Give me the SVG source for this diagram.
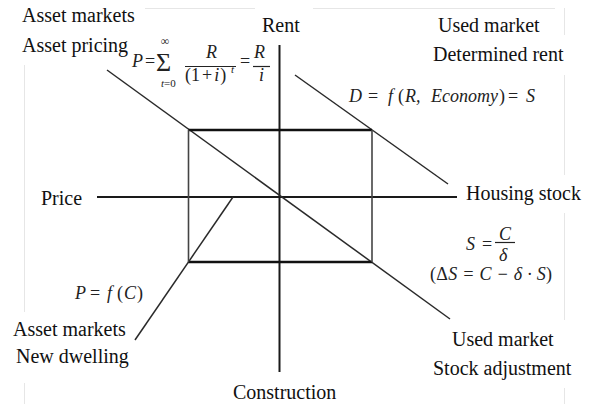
<svg xmlns="http://www.w3.org/2000/svg" width="592" height="404" viewBox="0 0 592 404">
<style>
.lbl{font-family:"Liberation Serif","Times New Roman",serif;font-size:20px;fill:#111}
.m{font-family:"Liberation Serif","Times New Roman",serif;font-style:italic;font-size:18px;fill:#222}
.mu{font-family:"Liberation Serif","Times New Roman",serif;font-size:18px;fill:#222}
.ax{stroke:#1a1a1a;stroke-width:2;fill:none}
.dg{stroke:#2a2a2a;stroke-width:1.5;fill:none}
.rh{stroke:#111;stroke-width:2.5;fill:none}
.rv{stroke:#444;stroke-width:1.6;fill:none}
.fr{stroke:#222;stroke-width:1.2;fill:none}
.faint{stroke:#e6e6e6;stroke-width:1;fill:none}
</style>
<rect width="592" height="404" fill="#fff"/>
<g id="frame-artifacts">
<line class="faint" x1="24.5" y1="65" x2="24.5" y2="312"/>
<line class="faint" x1="24.5" y1="383" x2="24.5" y2="404"/>
<line class="faint" x1="145" y1="8.5" x2="255" y2="8.5"/>
<line class="faint" x1="313" y1="8.5" x2="555" y2="8.5"/>
<line class="faint" x1="564.5" y1="8" x2="564.5" y2="35"/>
<line class="faint" x1="564.5" y1="75" x2="564.5" y2="175"/>
<line class="faint" x1="564.5" y1="213" x2="564.5" y2="320"/>
<line class="faint" x1="564.5" y1="388" x2="564.5" y2="404"/>
</g>
<g id="connectors">
<line id="axis-rent" class="ax" x1="279.5" y1="45" x2="279.5" y2="372"/>
<line id="axis-stock" class="ax" x1="97" y1="197" x2="457" y2="197"/>
<line id="line-asset-pricing" class="dg" x1="107" y1="70" x2="450" y2="319"/>
<line id="line-demand" class="dg" x1="295" y1="75" x2="448" y2="184"/>
<line id="line-construction" class="dg" x1="233" y1="197" x2="135" y2="340"/>
<line class="rh" x1="188.5" y1="130" x2="372" y2="130"/>
<line class="rh" x1="188.5" y1="262" x2="372" y2="262"/>
<line class="rv" x1="188.5" y1="130" x2="188.5" y2="262"/>
<line class="rv" x1="372" y1="130" x2="372" y2="262"/>
</g>
<g id="node-asset-pricing">
<text class="lbl" x="22" y="22">Asset markets</text>
<text class="lbl" x="22" y="52">Asset pricing</text>
</g>
<g id="node-rent"><text class="lbl" x="262" y="32">Rent</text></g>
<g id="node-determined-rent">
<text class="lbl" x="438" y="32">Used market</text>
<text class="lbl" x="433" y="61">Determined rent</text>
</g>
<g id="node-price"><text class="lbl" x="41" y="205">Price</text></g>
<g id="node-housing-stock"><text class="lbl" x="466" y="200">Housing stock</text></g>
<g id="node-new-dwelling">
<text class="lbl" x="13" y="336">Asset markets</text>
<text class="lbl" x="16" y="363">New dwelling</text>
</g>
<g id="node-construction"><text class="lbl" x="233" y="399">Construction</text></g>
<g id="node-stock-adjustment">
<text class="lbl" x="452" y="346">Used market</text>
<text class="lbl" x="433" y="375">Stock adjustment</text>
</g>
<g id="formula-pricing">
<text class="m" x="132" y="67">P</text>
<text class="mu" x="145" y="67">=</text>
<text class="mu" x="156" y="71" style="font-size:26px">Σ</text>
<text class="mu" x="165" y="45" text-anchor="middle" style="font-size:12px">∞</text>
<text class="m" x="161" y="87" style="font-size:11px">t<tspan style="font-style:normal">=0</tspan></text>
<text class="m" x="206" y="58">R</text>
<line class="fr" x1="185" y1="66.5" x2="236" y2="66.5"/>
<text class="mu" x="185" y="81">(1<tspan dx="2">+</tspan><tspan dx="2" style="font-style:italic">i</tspan><tspan dx="1">)</tspan></text>
<text class="m" x="231" y="73" style="font-size:11px">t</text>
<text class="mu" x="240" y="67">=</text>
<text class="m" x="254" y="58">R</text>
<line class="fr" x1="253" y1="66.5" x2="270" y2="66.5"/>
<text class="m" x="259" y="81">i</text>
</g>
<g id="formula-demand">
<text class="m" y="102"><tspan x="349">D</tspan><tspan class="mu" x="368" style="font-style:normal">=</tspan><tspan x="388">f</tspan><tspan x="398" style="font-style:normal">(</tspan><tspan x="405">R,</tspan><tspan x="431">Economy</tspan><tspan x="499" style="font-style:normal">)</tspan><tspan x="508" style="font-style:normal">=</tspan><tspan x="526">S</tspan></text>
</g>
<g id="formula-stock">
<text class="m" x="466" y="250">S</text>
<text class="mu" x="482" y="250">=</text>
<text class="m" x="499" y="240">C</text>
<line class="fr" x1="495" y1="242.5" x2="515" y2="242.5"/>
<text class="m" x="499" y="261">δ</text>
<text class="m" x="430" y="280" textLength="122" lengthAdjust="spacing"><tspan style="font-style:normal">(Δ</tspan>S = C − δ · S<tspan style="font-style:normal">)</tspan></text>
</g>
<g id="formula-construction">
<text class="m" y="299"><tspan x="75">P</tspan><tspan x="90" style="font-style:normal">=</tspan><tspan x="107">f</tspan><tspan x="117" style="font-style:normal">(</tspan><tspan x="124">C</tspan><tspan x="137" style="font-style:normal">)</tspan></text>
</g>
</svg>
